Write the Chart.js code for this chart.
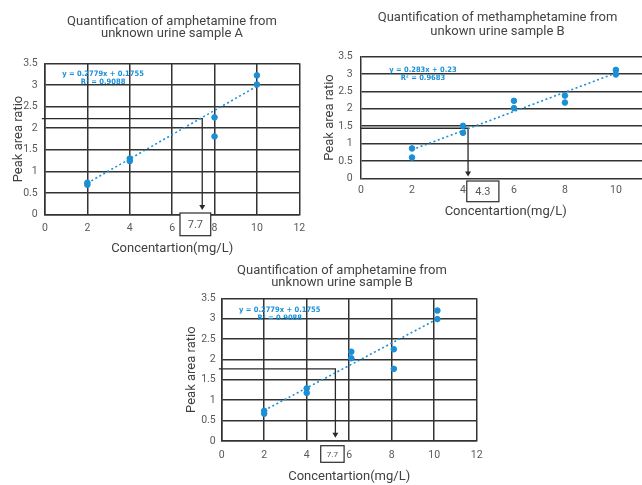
<!DOCTYPE html>
<html>
<head>
<meta charset="utf-8">
<script src="https://cdn.jsdelivr.net/npm/chart.js@4.4.1/dist/chart.umd.min.js"></script>
<style>
  html, body { margin: 0; padding: 0; background: #fff; }
  body { position: relative; width: 642px; height: 485px; overflow: hidden; }
  canvas { position: absolute; }
  #chartA { left: 0; top: 0; }
  #chartB { left: 318px; top: 0; }
  #chartC { left: 180px; top: 255px; }
</style>
</head>
<body>
<canvas id="chartA" width="344" height="260"></canvas>
<canvas id="chartB" width="359" height="230"></canvas>
<canvas id="chartC" width="324" height="230"></canvas>
<script>
"use strict";

// tick values shared by all three panels
var yTicks = [0, 0.5, 1, 1.5, 2, 2.5, 3, 3.5];
var xTicks = [0, 2, 4, 6, 8, 10, 12];
var xTicksB = [0, 2, 4, 6, 8, 10];

// amphetamine, urine sample A
var concA = [2, 2, 4, 4, 8, 8, 10, 10];
var ratioA = [0.74, 0.69, 1.30, 1.24, 2.25, 1.81, 3.22, 3.01];
var trendXA = [2, 10];
var trendYA = [0.73, 2.97];

// methamphetamine, urine sample B
var concB = [2, 2, 4, 4, 6, 6, 8, 8, 10, 10];
var ratioB = [0.86, 0.60, 1.51, 1.31, 2.23, 2.02, 2.38, 2.18, 3.12, 2.99];
var trendXB = [2, 10];
var trendYB = [0.82, 3.03];

// amphetamine, urine sample B
var concC = [2, 2, 4, 4, 6.1, 6.1, 8.1, 8.1, 10.15, 10.15];
var ratioC = [0.74, 0.67, 1.29, 1.18, 2.19, 2.03, 2.25, 1.77, 3.20, 2.99];
var trendXC = [2, 10.1];
var trendYC = [0.75, 2.98];

// read-outs: measured ratio -> concentration
var readA = { ratio: 2.22, conc: 7.42, label: '7.7' };
var readB = { ratio: 1.44, conc: 4.2, label: '4.3' };
var readC = { ratio: 1.77, conc: 5.35, label: '7.7' };

var eqA = ['y = 0.2779x + 0.1755', 'R\u00b2 = 0.9088'];
var eqB = ['y = 0.283x + 0.23', 'R\u00b2 = 0.9683'];
var eqC = ['y = 0.2779x + 0.1755', 'R\u00b2 = 0.9088'];

var BLUE = '#1a8fd6';
var GRID = '#333333';
var FONT = 'Roboto, "Open Sans", sans-serif';

function toPoints(xs, ys) {
    return xs.map(function(x, i) { return { x: x, y: ys[i] }; });
}

var readoutPlugin = {
    id: 'readout',
    beforeDatasetsDraw: function(chart, args, o) {
        var xs = chart.scales.x, ys = chart.scales.y, ctx = chart.ctx;
        var py = ys.getPixelForValue(o.read.ratio);
        var px = xs.getPixelForValue(o.read.conc);
        var tip = ys.getPixelForValue(o.tipAt);
        ctx.save();
        ctx.strokeStyle = '#2b2b2b';
        ctx.fillStyle = '#2b2b2b';
        ctx.lineWidth = 1.3;
        ctx.beginPath();
        ctx.moveTo(xs.getPixelForValue(o.from), py);
        ctx.lineTo(px, py);
        ctx.lineTo(px, tip - 4);
        ctx.stroke();
        ctx.beginPath();
        ctx.moveTo(px - 3, tip - 5);
        ctx.lineTo(px + 3, tip - 5);
        ctx.lineTo(px, tip);
        ctx.closePath();
        ctx.fill();
        ctx.restore();
    },
    afterDraw: function(chart, args, o) {
        var xs = chart.scales.x, ys = chart.scales.y, ctx = chart.ctx;
        ctx.save();
        // trendline equation
        ctx.fillStyle = BLUE;
        ctx.font = 'bold 7.5px "Liberation Sans Narrow", "DejaVu Sans Condensed", Roboto, sans-serif';
        ctx.textAlign = 'center';
        ctx.textBaseline = 'middle';
        var ex = xs.getPixelForValue(o.eqAt[0]), ey = ys.getPixelForValue(o.eqAt[1]);
        o.eq.forEach(function(line, i) { ctx.fillText(line, ex, ey + i * 8); });
        // result box under the axis
        var bx0 = xs.getPixelForValue(o.box[0]), bx1 = xs.getPixelForValue(o.box[1]);
        var by0 = chart.chartArea.bottom + o.boxY[0], by1 = chart.chartArea.bottom + o.boxY[1];
        ctx.fillStyle = '#fff';
        ctx.fillRect(bx0, by0, bx1 - bx0, by1 - by0);
        ctx.strokeStyle = '#2b2b2b';
        ctx.lineWidth = 1.2;
        ctx.strokeRect(bx0, by0, bx1 - bx0, by1 - by0);
        ctx.fillStyle = '#555';
        ctx.font = o.boxFont + 'px ' + FONT;
        ctx.fillText(o.read.label, (bx0 + bx1) / 2, (by0 + by1) / 2 + 0.5);
        ctx.restore();
    }
};

function makeChart(id, cfg) {
    var ticksFrom = function(arr) {
        return function(s) { s.ticks = arr.map(function(v) { return { value: v }; }); };
    };
    return new Chart(document.getElementById(id), {
        type: 'scatter',
        data: {
            datasets: [{
                data: toPoints(cfg.conc, cfg.ratio),
                backgroundColor: BLUE,
                borderColor: BLUE,
                pointRadius: 2.8,
                pointHoverRadius: 2.8
            }, {
                type: 'line',
                data: toPoints(cfg.trendX, cfg.trendY),
                showLine: true,
                borderColor: BLUE,
                borderWidth: 1.6,
                borderDash: [2, 2.6],
                pointRadius: 0,
                fill: false
            }]
        },
        options: {
            responsive: false,
            animation: false,
            events: [],
            layout: { padding: 0 },
            plugins: {
                legend: { display: false },
                tooltip: { enabled: false },
                title: {
                    display: true,
                    text: cfg.title,
                    color: '#444444',
                    font: { family: FONT, size: 13, weight: 'normal', lineHeight: cfg.titleLH },
                    padding: { top: cfg.titleTop, bottom: cfg.titleBottom }
                },
                readout: cfg.readout
            },
            scales: {
                x: {
                    type: 'linear',
                    min: 0,
                    max: cfg.xMax,
                    afterBuildTicks: ticksFrom(cfg.xTicks),
                    afterFit: function(s) { s.height = cfg.xHeight; },
                    grid: { display: cfg.xGrid, color: GRID, lineWidth: 1.5, drawTicks: false },
                    border: { display: cfg.xGrid, color: GRID, width: 1.5 },
                    ticks: { color: '#595959', padding: cfg.xTickPad, font: { family: FONT, size: 10.5 },
                             callback: function(v) { return String(v); } },
                    title: { display: true, text: 'Concentartion(mg/L)', color: '#404040',
                             font: { family: FONT, size: 13 }, padding: { top: 0, bottom: cfg.xTitlePad } }
                },
                y: {
                    min: 0,
                    max: 3.5,
                    afterBuildTicks: ticksFrom(yTicks),
                    afterFit: function(s) { s.width = cfg.yWidth; },
                    grid: { color: GRID, lineWidth: 1.5, drawTicks: false },
                    border: { display: true, color: GRID, width: 1.5 },
                    ticks: { color: '#595959', padding: cfg.yTickPad, font: { family: FONT, size: 10.5 },
                             callback: function(v) { return String(v); } },
                    title: { display: true, text: 'Peak area ratio', color: '#404040',
                             font: { family: FONT, size: 13 }, padding: { top: cfg.yTitlePad, bottom: 0 } }
                },
                // empty right-hand axis: keeps the chart title centred like the original
                gap: {
                    type: 'linear',
                    position: 'right',
                    display: true,
                    min: 0,
                    max: 1,
                    grid: { display: false },
                    border: { display: false },
                    ticks: { display: false },
                    afterFit: function(s) { s.width = cfg.rightGap; }
                }
            }
        },
        plugins: [readoutPlugin]
    });
}

makeChart('chartA', {
    conc: concA, ratio: ratioA, trendX: trendXA, trendY: trendYA,
    title: ['Quantification of amphetamine from', 'unknown urine sample A'],
    titleLH: 0.923, titleTop: 15.6, titleBottom: 23.7,
    rightGap: 44.7, xMax: 12, xTicks: xTicks, xGrid: true,
    xHeight: 45.3, xTickPad: 7.3, xTitlePad: 3.9,
    yWidth: 45, yTickPad: 7.3, yTitlePad: 10.5,
    readout: { read: readA, from: -0.15, tipAt: 0.11, eq: eqA, eqAt: [2.74, 3.25],
               box: [6.37, 7.82], boxY: [-1.7, 21], boxFont: 11 }
});

makeChart('chartB', {
    conc: concB, ratio: ratioB, trendX: trendXB, trendY: trendYB,
    title: ['Quantification of methamphetamine from', 'unkown urine sample B'],
    titleLH: 1.077, titleTop: 10.7, titleBottom: 18,
    rightGap: 26.7, xMax: 11.35, xTicks: xTicksB, xGrid: false,
    xHeight: 51.7, xTickPad: 6.1, xTitlePad: 10.5,
    yWidth: 43, yTickPad: 8.3, yTitlePad: 3.7,
    readout: { read: readB, from: 0, tipAt: 0.05, eq: eqB, eqAt: [2.43, 3.12],
               box: [4.15, 5.41], boxY: [2.7, 23.4], boxFont: 11 }
});

makeChart('chartC', {
    conc: concC, ratio: ratioC, trendX: trendXC, trendY: trendYC,
    title: ['Quantification of amphetamine from', 'unknown urine sample B'],
    titleLH: 0.923, titleTop: 9.4, titleBottom: 9.9,
    rightGap: 27.3, xMax: 12, xTicks: xTicks, xGrid: true,
    xHeight: 44, xTickPad: 8, xTitlePad: 0,
    yWidth: 41.7, yTickPad: 6, yTitlePad: 3.9,
    readout: { read: readC, from: -0.13, tipAt: 0.08, eq: eqC, eqAt: [2.73, 3.22],
               box: [4.66, 5.76], boxY: [4.7, 21.3], boxFont: 8 }
});
</script>
</body>
</html>
